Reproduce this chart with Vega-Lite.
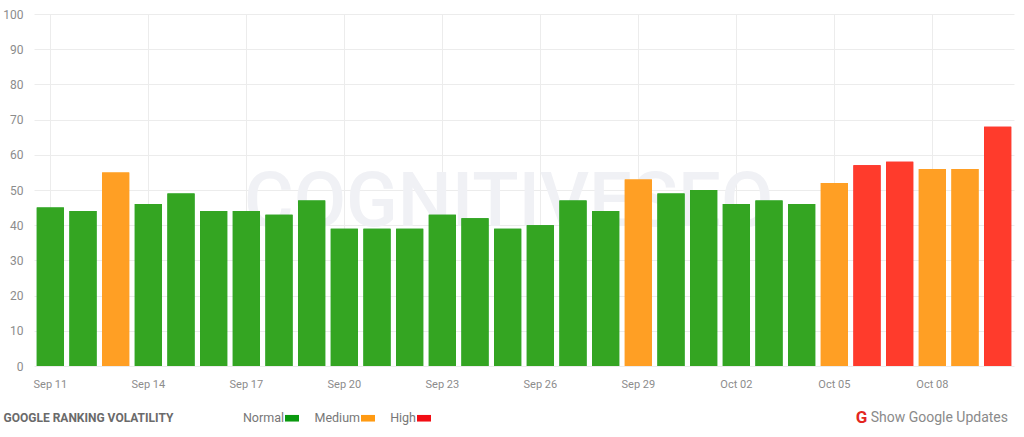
{"$schema":"https://vega.github.io/schema/vega-lite/v6.json","width":980,"height":352,"autosize":{"type":"none"},"padding":{"left":34,"top":14,"right":10,"bottom":71},"background":"#ffffff","title":{"text":"Show Google Updates","orient":"bottom","anchor":"end","frame":"group","dx":-6,"offset":-14,"font":"Roboto","fontSize":14,"fontWeight":"normal","color":"#8a8a8a"},"data":{"values":[{"date":"Sep 11","v":45,"level":"Normal"},{"date":"Sep 12","v":44,"level":"Normal"},{"date":"Sep 13","v":55,"level":"Medium"},{"date":"Sep 14","v":46,"level":"Normal"},{"date":"Sep 15","v":49,"level":"Normal"},{"date":"Sep 16","v":44,"level":"Normal"},{"date":"Sep 17","v":44,"level":"Normal"},{"date":"Sep 18","v":43,"level":"Normal"},{"date":"Sep 19","v":47,"level":"Normal"},{"date":"Sep 20","v":39,"level":"Normal"},{"date":"Sep 21","v":39,"level":"Normal"},{"date":"Sep 22","v":39,"level":"Normal"},{"date":"Sep 23","v":43,"level":"Normal"},{"date":"Sep 24","v":42,"level":"Normal"},{"date":"Sep 25","v":39,"level":"Normal"},{"date":"Sep 26","v":40,"level":"Normal"},{"date":"Sep 27","v":47,"level":"Normal"},{"date":"Sep 28","v":44,"level":"Normal"},{"date":"Sep 29","v":53,"level":"Medium"},{"date":"Sep 30","v":49,"level":"Normal"},{"date":"Oct 01","v":50,"level":"Normal"},{"date":"Oct 02","v":46,"level":"Normal"},{"date":"Oct 03","v":47,"level":"Normal"},{"date":"Oct 04","v":46,"level":"Normal"},{"date":"Oct 05","v":52,"level":"Medium"},{"date":"Oct 06","v":57,"level":"High"},{"date":"Oct 07","v":58,"level":"High"},{"date":"Oct 08","v":56,"level":"Medium"},{"date":"Oct 09","v":56,"level":"Medium"},{"date":"Oct 10","v":68,"level":"High"}]},"encoding":{"x":{"field":"date","type":"nominal","sort":null,"scale":{"paddingInner":0.17,"paddingOuter":0.085,"domain":["Sep 11","Sep 12","Sep 13","Sep 14","Sep 15","Sep 16","Sep 17","Sep 18","Sep 19","Sep 20","Sep 21","Sep 22","Sep 23","Sep 24","Sep 25","Sep 26","Sep 27","Sep 28","Sep 29","Sep 30","Oct 01","Oct 02","Oct 03","Oct 04","Oct 05","Oct 06","Oct 07","Oct 08","Oct 09","Oct 10"]},"axis":{"values":["Sep 11","Sep 14","Sep 17","Sep 20","Sep 23","Sep 26","Sep 29","Oct 02","Oct 05","Oct 08"],"labelAngle":0,"labelFont":"Roboto","labelFontSize":11,"labelColor":"#8c8c8c","labelPadding":12,"ticks":false,"domain":false,"grid":true,"gridColor":"#ececec","gridWidth":1,"title":"GOOGLE RANKING VOLATILITY","titleFont":"Roboto","titleFontSize":12,"titleFontWeight":"bold","titleColor":"#6a6a6a","titleAnchor":"start","titleAlign":"left","titleBaseline":"middle","titleX":-31,"titleY":51}},"y":{"field":"v","type":"quantitative","scale":{"domain":[0,100]},"axis":{"values":[0,10,20,30,40,50,60,70,80,90,100],"title":"G","titleFont":"Roboto","titleFontSize":17,"titleFontWeight":"bold","titleColor":"#e3261f","titleAngle":0,"titleX":827,"titleY":403,"titleAlign":"center","titleBaseline":"middle","labelFont":"Roboto","labelFontSize":12,"labelColor":"#8c8c8c","labelPadding":11,"ticks":false,"domain":false,"grid":true,"gridColor":"#ececec","gridWidth":1}}},"layer":[{"transform":[{"filter":"datum.date === 'Sep 25'"}],"mark":{"type":"text","text":"COGNITIVESEO","font":"Roboto","fontSize":76,"fontWeight":500,"color":"#f0f1f5","align":"center","baseline":"middle","dy":-26,"dx":1},"encoding":{}},{"mark":{"type":"bar","height":0},"encoding":{"color":{"field":"level","type":"nominal","scale":{"domain":["Normal","Medium","High"],"range":["#0a990f","#ff9a12","#f20d14"]},"legend":{"orient":"none","legendX":250,"legendY":396,"direction":"horizontal","title":null,"labelFont":"Roboto","labelFontSize":12.5,"labelColor":"#777777","symbolType":"M-1,-0.47H1V0.47H-1Z","symbolSize":197,"symbolOpacity":1,"labelAlign":"right","labelOffset":-16,"columnPadding":14}}}},{"mark":{"type":"bar"},"encoding":{"color":{"field":"level","type":"nominal","scale":{"domain":["Normal","Medium","High"],"range":["#34a522","#ff9f24","#ff3b2c"]},"legend":null}}}],"resolve":{"scale":{"color":"independent"}},"config":{"view":{"stroke":null}}}
